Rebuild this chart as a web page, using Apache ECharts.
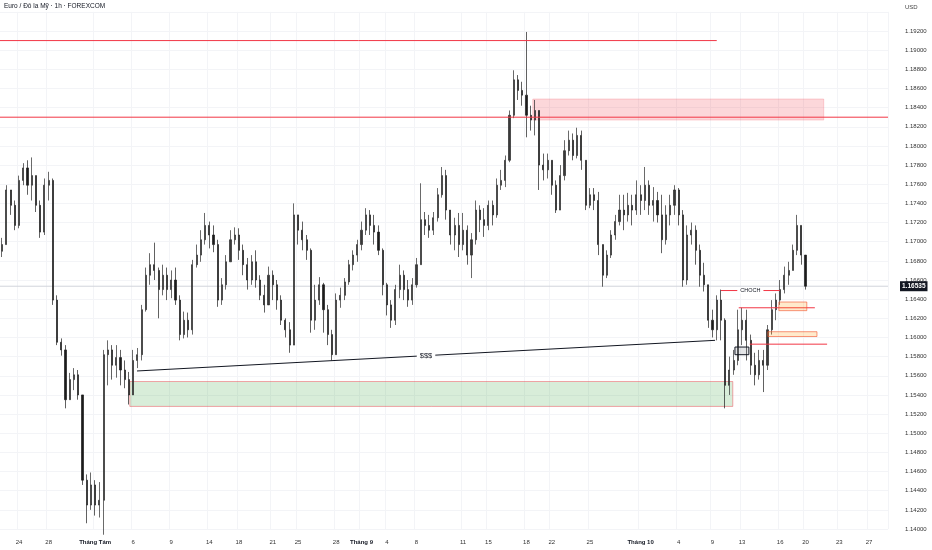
<!DOCTYPE html>
<html><head><meta charset="utf-8">
<script src="https://cdn.jsdelivr.net/npm/echarts@6.0.0/dist/echarts.min.js"></script>
<style>html,body{margin:0;padding:0;background:#fff}#c{width:932px;height:550px}</style>
</head><body><div id="c"></div>
<script>
// ---- data (EUR/USD, 1 slot = 8 hours) ----
const firstOpen = 1.1690;
const closes = [
1.1697,1.1754,1.1738,1.1717,1.1764,1.1777,1.1759,1.1769,1.1738,1.1710,
1.1759,1.1764,1.1639,1.1595,1.1587,1.1535,1.1556,1.1561,1.1540,1.1451,
1.1425,1.1446,1.1425,1.1430,1.1582,1.1587,1.1571,1.1579,1.1566,1.1556,
1.1540,1.1576,1.1582,1.1629,1.1665,1.1676,1.1670,1.1650,1.1665,1.1650,
1.1660,1.1639,1.1603,1.1618,1.1608,1.1676,1.1686,1.1702,1.1717,1.1707,
1.1697,1.1639,1.1655,1.1679,1.1702,1.1707,1.1691,1.1676,1.1660,1.1679,
1.1660,1.1644,1.1634,1.1665,1.1655,1.1639,1.1618,1.1608,1.1592,1.1728,
1.1712,1.1702,1.1691,1.1618,1.1639,1.1655,1.1629,1.1603,1.1582,1.1639,
1.1644,1.1658,1.1676,1.1686,1.1697,1.1712,1.1728,1.1717,1.1710,1.1691,
1.1655,1.1634,1.1618,1.1650,1.1665,1.1650,1.1639,1.1655,1.1676,1.1723,
1.1717,1.1712,1.1725,1.1749,1.1769,1.1733,1.1707,1.1717,1.1697,1.1712,
1.1686,1.1702,1.1733,1.1723,1.1717,1.1738,1.1728,1.1759,1.1764,1.1785,
1.1832,1.1869,1.1858,1.1853,1.1832,1.1827,1.1837,1.1780,1.1775,1.1785,
1.1759,1.1733,1.1769,1.1795,1.1806,1.1790,1.1811,1.1785,1.1738,1.1749,
1.1743,1.1697,1.1665,1.1686,1.1707,1.1721,1.1733,1.1728,1.1738,1.1733,
1.1749,1.1743,1.1759,1.1738,1.1743,1.1728,1.1702,1.1728,1.1738,1.1754,
1.1728,1.1660,1.1707,1.1712,1.1691,1.1665,1.1655,1.1618,1.1608,1.1639,
1.1618,1.1550,1.1566,1.1576,1.1608,1.1618,1.1597,1.1571,1.1561,1.1576,
1.1571,1.1608,1.1629,1.1639,1.1650,1.1665,1.1670,1.1691,1.1717,1.1686,
1.16535
];
const highs = [
1.1704,1.1759,1.1754,1.1743,1.1769,1.1782,1.1785,1.1788,1.1764,1.1743,
1.1766,1.1773,1.1766,1.1644,1.1599,1.1592,1.1563,1.1568,1.1566,1.1540,
1.1457,1.1459,1.1451,1.1449,1.1587,1.1597,1.1592,1.1592,1.1587,1.1576,
1.1564,1.1587,1.1589,1.1634,1.1673,1.1688,1.1699,1.1673,1.1676,1.1673,
1.1670,1.1673,1.1644,1.1627,1.1626,1.1681,1.1697,1.1712,1.1730,1.1721,
1.1717,1.1702,1.1662,1.1686,1.1712,1.1715,1.1714,1.1697,1.1683,1.1686,
1.1691,1.1665,1.1655,1.1674,1.1670,1.1660,1.1644,1.1620,1.1616,1.1740,
1.1728,1.1721,1.1707,1.1693,1.1655,1.1663,1.1657,1.1634,1.1608,1.1646,
1.1652,1.1662,1.1681,1.1691,1.1702,1.1721,1.1735,1.1733,1.1728,1.1717,
1.1693,1.1657,1.1639,1.1655,1.1676,1.1670,1.1660,1.1662,1.1683,1.1761,
1.1731,1.1728,1.1731,1.1756,1.1778,1.1775,1.1728,1.1725,1.1730,1.1730,
1.1717,1.1709,1.1743,1.1738,1.1735,1.1743,1.1743,1.1766,1.1775,1.1790,
1.1837,1.1879,1.1874,1.1867,1.1919,1.1842,1.1848,1.1827,1.1792,1.1792,
1.1785,1.1764,1.1780,1.1806,1.1816,1.1813,1.1819,1.1816,1.1785,1.1756,
1.1756,1.1752,1.1681,1.1691,1.1712,1.1728,1.1749,1.1749,1.1751,1.1749,
1.1764,1.1759,1.1778,1.1764,1.1757,1.1752,1.1749,1.1738,1.1749,1.1759,
1.1756,1.1733,1.1717,1.1720,1.1717,1.1697,1.1678,1.1655,1.1629,1.1644,
1.1650,1.1620,1.1580,1.1587,1.1629,1.1631,1.1629,1.1603,1.1584,1.1587,
1.1587,1.1613,1.1639,1.1646,1.1660,1.1674,1.1679,1.1697,1.1728,1.1717,
1.1683
];
const lows = [
1.1684,1.1697,1.1728,1.1712,1.1714,1.1759,1.1749,1.1743,1.1731,1.1704,
1.1707,1.1743,1.1634,1.1592,1.1581,1.1526,1.1535,1.1545,1.1535,1.1446,
1.1406,1.1420,1.1414,1.1412,1.1394,1.1550,1.1556,1.1558,1.1550,1.1547,
1.1530,1.1540,1.1568,1.1576,1.1627,1.1655,1.1660,1.1620,1.1644,1.1639,
1.1641,1.1634,1.1597,1.1599,1.1600,1.1603,1.1673,1.1679,1.1697,1.1693,
1.1689,1.1632,1.1634,1.1650,1.1679,1.1697,1.1681,1.1665,1.1650,1.1655,
1.1652,1.1639,1.1626,1.1634,1.1639,1.1629,1.1613,1.1600,1.1584,1.1592,
1.1697,1.1691,1.1681,1.1605,1.1608,1.1634,1.1605,1.1592,1.1576,1.1582,
1.1631,1.1639,1.1655,1.1670,1.1679,1.1691,1.1707,1.1707,1.1697,1.1686,
1.1644,1.1623,1.1610,1.1613,1.1641,1.1639,1.1632,1.1634,1.1652,1.1676,
1.1707,1.1704,1.1707,1.1721,1.1746,1.1723,1.1697,1.1691,1.1684,1.1691,
1.1676,1.1662,1.1697,1.1710,1.1705,1.1712,1.1717,1.1725,1.1754,1.1757,
1.1783,1.1829,1.1848,1.1842,1.1809,1.1816,1.1811,1.1754,1.1764,1.1766,
1.1749,1.1730,1.1733,1.1764,1.1790,1.1785,1.1787,1.1775,1.1733,1.1735,
1.1733,1.1686,1.1653,1.1662,1.1683,1.1702,1.1717,1.1712,1.1721,1.1717,
1.1728,1.1728,1.1733,1.1728,1.1721,1.1720,1.1688,1.1697,1.1717,1.1728,
1.1717,1.1653,1.1655,1.1697,1.1676,1.1653,1.1648,1.1610,1.1600,1.1597,
1.1597,1.1526,1.1540,1.1561,1.1571,1.1592,1.1576,1.1561,1.1550,1.1556,
1.1543,1.1566,1.1603,1.1618,1.1634,1.1646,1.1655,1.1670,1.1686,1.1676,
1.1650
];
const slotCount = 210;
const tickSlots  = [4,11,22,31,40,49,56,64,70,79,85,91,98,109,115,124,130,139,151,160,168,175,184,190,198,205];
const tickLabels = ['24','28','Tháng Tám','6','9','14','18','21','25','28','Tháng 9','4','8','11','15','18','22','25','Tháng 10','4','9','13','16','20','23','27'];
const monthLabels = ['Tháng Tám','Tháng 9','Tháng 10'];
const priceMin = 1.140, priceMax = 1.194, priceStep = 0.002;
const lastPrice = 1.16535;
// annotations: [fromSlot, toSlot, price] / boxes: [fromSlot, toSlot, priceTop, priceBottom]
const levelLines = [[-0.5,169,1.1910],[-0.5,209.5,1.1830],[174.2,192.2,1.1631],[176.8,195.1,1.1593]];
const supplyZone = [125.5,194.3,1.1849,1.1827];
const demandZone = [30.2,172.8,1.1554,1.1528];
const fvgZones = [[183.7,190.3,1.1637,1.1628],[181.1,192.7,1.1606,1.1601]];
const smallBox = [173.3,176.6,1.1590,1.1582];
const liquidityLine = [31.9,1.1565,168.6,1.1597];
const chochLine = [170.0,183.9,1.1649];
const titleText = 'Euro / Đô la Mỹ · 1h · FOREXCOM';

// ---- build ----
const FONT = 'Liberation Sans, Arial, sans-serif';
const candles = closes.map((c,i)=>{
  const o = i===0 ? firstOpen : closes[i-1];
  return [o, c, Math.min(lows[i],o,c), Math.max(highs[i],o,c)];
});
const labelMap = {};
tickSlots.forEach((s,k)=>{ labelMap[s]=tickLabels[k]; });
const cats = Array.from({length:slotCount},(_,i)=>'s'+i);

function boxSeries(data, fill, stroke, lw, z){
  return {type:'custom', xAxisIndex:1, yAxisIndex:0, z:z, silent:true, data:data,
    renderItem:(p,api)=>{
      const a=api.coord([api.value(0),api.value(2)]), b=api.coord([api.value(1),api.value(3)]);
      return {type:'rect', shape:{x:Math.min(a[0],b[0]),y:Math.min(a[1],b[1]),width:Math.abs(b[0]-a[0]),height:Math.abs(b[1]-a[1])},
        style:{fill:fill, stroke:stroke, lineWidth:lw}};
    }};
}
function segSeries(data, color, lw, z){
  return {type:'custom', xAxisIndex:1, yAxisIndex:0, z:z, silent:true, data:data,
    renderItem:(p,api)=>{
      const a=api.coord([api.value(0),api.value(2)]), b=api.coord([api.value(1),api.value(2)]);
      return {type:'line', shape:{x1:a[0],y1:a[1],x2:b[0],y2:b[1]}, style:{stroke:color, lineWidth:lw}};
    }};
}
function labeledLine(seg, text, color, textColor, fs, z){
  return {type:'custom', xAxisIndex:1, yAxisIndex:0, z:z, silent:true, data:[seg],
    renderItem:(p,api)=>{
      const a=api.coord([api.value(0),api.value(1)]), b=api.coord([api.value(2),api.value(3)]);
      return {type:'group', children:[
        {type:'line', shape:{x1:a[0],y1:a[1],x2:b[0],y2:b[1]}, style:{stroke:color, lineWidth:1}},
        {type:'text', z2:5, style:{text:text, x:(a[0]+b[0])/2, y:(a[1]+b[1])/2, align:'center', verticalAlign:'middle',
          fill:textColor, fontSize:fs, fontFamily:FONT, backgroundColor:'#fff', padding:[0,3]}}
      ]};
    }};
}
const priceLineSeries = {type:'custom', xAxisIndex:1, yAxisIndex:0, z:1, silent:true, data:[[lastPrice]],
  renderItem:(p,api)=>{
    const v=api.value(0);
    const a=api.coord([-0.5,v]), b=api.coord([slotCount-0.5,v]);
    return {type:'line', shape:{x1:a[0],y1:a[1],x2:b[0],y2:b[1]}, style:{stroke:'#d1d4dc', lineWidth:1}};
  }};
const priceTagSeries = {type:'custom', xAxisIndex:1, yAxisIndex:0, z:20, silent:true, data:[[lastPrice]],
  renderItem:(p,api)=>{
    const v=api.value(0);
    const b=api.coord([slotCount-0.5,v]);
    return {type:'text', z2:50, style:{text:v.toFixed(5), x:b[0]+12, y:b[1], align:'left', verticalAlign:'middle',
      fill:'#fff', backgroundColor:'#131722', padding:[2,2,1,2], fontSize:6.5, fontWeight:'bold', fontFamily:FONT}};
  }};

const chart = echarts.init(document.getElementById('c'), null, {renderer:'canvas'});
chart.setOption({
  animation:false,
  backgroundColor:'#fff',
  grid:{left:0, right:44, top:11.85, bottom:21, containLabel:false},
  graphic:[
    {type:'text', left:4, top:3, style:{text:titleText, fill:'#131722', fontSize:6.5, fontFamily:FONT}},
    {type:'text', left:905, top:4, style:{text:'USD', fill:'#444', fontSize:6, fontFamily:FONT}}
  ],
  xAxis:[
    {type:'category', data:cats, boundaryGap:true, axisLine:{show:false}, axisTick:{show:false},
     axisLabel:{interval:(i)=>labelMap[i]!==undefined, margin:10, fontSize:6, color:'#333', fontFamily:FONT,
       formatter:(v,i)=>{const t=labelMap[i]; if(t===undefined) return ''; return monthLabels.includes(t)?'{b|'+t+'}':t;},
       rich:{b:{fontWeight:'bold', fontSize:6, color:'#131722', fontFamily:FONT}}},
     splitLine:{show:true, interval:(i)=>labelMap[i]!==undefined, lineStyle:{color:'#f3f4f7', width:1}}},
    {type:'value', min:-0.5, max:slotCount-0.5, show:false}
  ],
  yAxis:{type:'value', position:'right', min:priceMin, max:priceMax, interval:priceStep, scale:true,
    axisLine:{show:false}, axisTick:{show:false},
    axisLabel:{showMaxLabel:false, margin:17, align:'left', fontSize:6, color:'#333', fontFamily:FONT,
      formatter:(v)=>v.toFixed(5)},
    splitLine:{show:true, lineStyle:{color:'#f3f4f7', width:1}}},
  series:[
    priceLineSeries,
    boxSeries([demandZone], 'rgba(76,175,80,0.22)', 'rgba(242,54,69,0.55)', 0.8, 1),
    boxSeries([supplyZone], 'rgba(242,54,69,0.2)', 'rgba(242,54,69,0.25)', 0.8, 1),
    boxSeries(fvgZones, 'rgba(255,152,0,0.2)', 'rgba(242,90,50,0.8)', 0.8, 4),
    boxSeries([smallBox], 'rgba(120,123,134,0.2)', '#131722', 1, 4),
    {type:'candlestick', data:candles, z:2, barWidth:1.6, clip:false, silent:true,
     itemStyle:{color:'#3a3a3a', color0:'#1c1c1c', borderColor:'#2a2a2a', borderColor0:'#1c1c1c', borderWidth:0.7}},
    segSeries(levelLines, '#f23645', 1, 3),
    labeledLine(liquidityLine, '$$$', '#131722', '#131722', 7.5, 5),
    labeledLine([chochLine[0],chochLine[2],chochLine[1],chochLine[2]], 'CHOCH', '#f23645', '#131722', 5.5, 5),
    priceTagSeries
  ]
});
</script></body></html>
